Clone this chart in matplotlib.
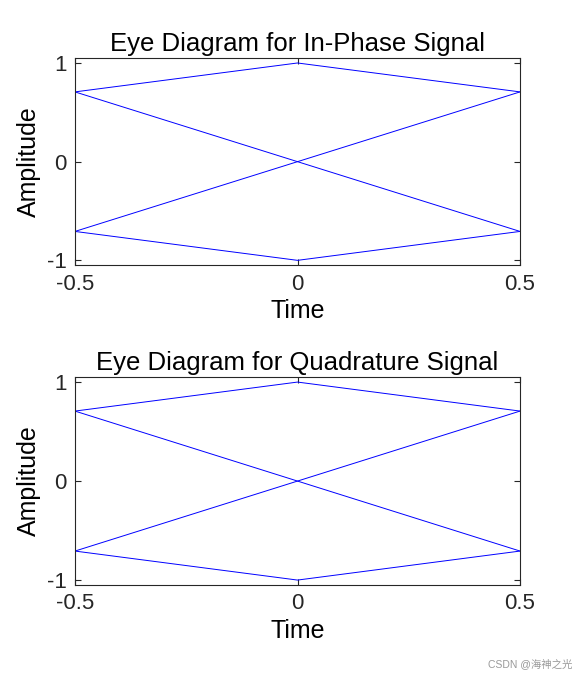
import matplotlib.pyplot as plt

plt.rcParams['font.family'] = ['Liberation Sans', 'Noto Sans CJK SC', 'DejaVu Sans']

# eye traces: each trace spans one symbol period (-0.5, 0, 0.5)
t = [-0.5, 0, 0.5]
traces_i = [
    [0.707, 1.0, 0.707],
    [0.707, 0.0, -0.707],
    [-0.707, 0.0, 0.707],
    [-0.707, -1.0, -0.707],
]
traces_q = [
    [0.707, 1.0, 0.707],
    [0.707, 0.0, -0.707],
    [-0.707, 0.0, 0.707],
    [-0.707, -1.0, -0.707],
]
titles = ['Eye Diagram for In-Phase Signal', 'Eye Diagram for Quadrature Signal']

fig = plt.figure(figsize=(5.75, 6.75), dpi=100)
ax1 = fig.add_axes([0.1304, 0.607, 0.774, 0.307])
ax2 = fig.add_axes([0.1304, 0.1333, 0.774, 0.308])

for ax, traces, title in zip([ax1, ax2], [traces_i, traces_q], titles):
    for tr in traces:
        ax.plot(t, tr, color='blue', linewidth=0.7)
    ax.set_xlim(-0.5, 0.5)
    ax.set_ylim(-1.05, 1.05)
    ax.set_xticks([-0.5, 0, 0.5])
    ax.set_xticklabels(['-0.5', '0', '0.5'])
    ax.set_yticks([-1, 0, 1])
    ax.set_yticklabels(['-1', '0', '1'])
    ax.tick_params(direction='in', labelsize=16, top=True, right=True, length=4,
                   color='#262626', labelcolor='#262626', pad=6)
    for s in ax.spines.values():
        s.set_color('#262626')
    ax.set_title(title, fontsize=18.5, pad=5)
    ax.set_xlabel('Time', fontsize=18, labelpad=3)
    ax.set_ylabel('Amplitude', fontsize=18, labelpad=4)

fig.text(0.995, 0.008, 'CSDN @海神之光', fontsize=7.5, color='#999999', ha='right', va='bottom')

fig.savefig('out.png', dpi=100)
